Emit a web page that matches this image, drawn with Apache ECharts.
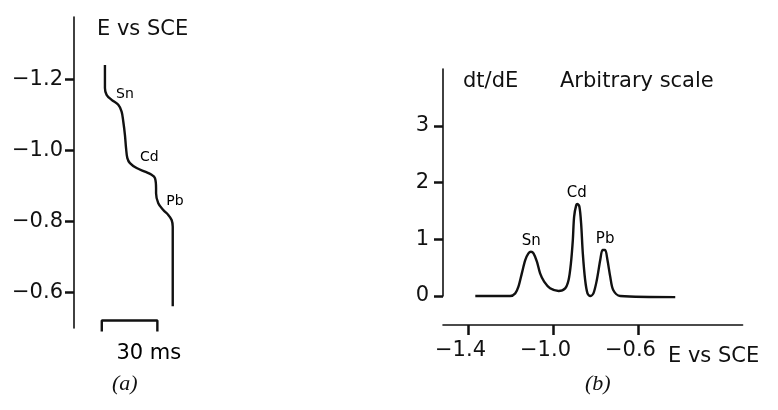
<!DOCTYPE html>
<html><head><meta charset="utf-8">
<script src="https://cdn.jsdelivr.net/npm/echarts@6/dist/echarts.min.js"></script>
<style>html,body{margin:0;padding:0;background:#fff}#c{width:778px;height:410px}</style>
</head><body><div id="c"></div>
<script>
// ---- Panel (a): potential vs time (chronopotentiogram) ----
const aTime = [16.7,16.7,17.6,20.3,23.9,25.7,26.6,27.5,28.1,28.8,30.2,33.8,38.3,41.9,43.7,44.3,44.3,45.5,48.2,50.9,52.7,53.3,53.3];
const aPotential = [-1.240,-1.175,-1.156,-1.142,-1.128,-1.109,-1.081,-1.043,-1.006,-0.978,-0.964,-0.950,-0.940,-0.931,-0.922,-0.893,-0.879,-0.851,-0.832,-0.818,-0.804,-0.785,-0.561];
const aTicks = [-1.2,-1.0,-0.8,-0.6];
const aPeakNames = ['Sn','Cd','Pb'];
const aPeakTime = [27.5,40.6,54.5];
const aPeakPotential = [-1.156,-0.980,-0.856];
const scaleBarTime = [15,15,45,45];
const scaleBarPotential = [-0.490,-0.521,-0.521,-0.490];
const scaleBarLabel = ['30 ms'];
const scaleBarLabelPos = [40.4,-0.428];

// ---- Panel (b): dt/dE vs E ----
const bPotential = [-1.368,-1.204,-1.180,-1.165,-1.149,-1.133,-1.118,-1.106,-1.094,-1.078,-1.063,-1.044,-1.016,-0.976,-0.945,-0.929,-0.918,-0.909,-0.903,-0.893,-0.887,-0.878,-0.870,-0.862,-0.851,-0.840,-0.827,-0.812,-0.796,-0.780,-0.769,-0.757,-0.746,-0.733,-0.719,-0.686,-0.427];
const bDtdE = [0,0,0.047,0.164,0.399,0.634,0.752,0.781,0.752,0.606,0.399,0.252,0.135,0.088,0.135,0.282,0.575,0.986,1.396,1.602,1.620,1.573,1.279,0.752,0.282,0.047,0.0,0.047,0.282,0.634,0.810,0.810,0.634,0.341,0.106,0.0,-0.02];
const bYTicks = [0,1,2,3];
const bXTicks = [-1.4,-1.0,-0.6];
const bPeakNames = ['Sn','Cd','Pb'];
const bPeakPotential = [-1.105,-0.890,-0.757];
const bPeakHeight = [0.969,1.82,0.999];

const INK = '#111';
const FONT = 'DejaVu Sans';
const fmtNeg = v => (v < 0 ? '\u2212' : '') + Math.abs(v).toFixed(1);

const chart = echarts.init(document.getElementById('c'), null, {renderer: 'canvas'});
const titleStyle = {color: INK, fontFamily: FONT, fontSize: 21, fontWeight: 'normal'};
const capStyle = {color: INK, fontFamily: 'Liberation Serif', fontStyle: 'italic', fontSize: 22, fontWeight: 'normal'};
const annot = (size, weight) => ({show: true, position: 'inside', formatter: '{b}', color: '#000', opacity: 1,
  fontFamily: FONT, fontSize: size, fontWeight: weight});

chart.setOption({
  animation: false,
  backgroundColor: '#fff',
  title: [
    {text: 'E vs SCE', left: 92, top: 14, textStyle: titleStyle},
    {text: 'dt/dE', left: 458, top: 66, textStyle: titleStyle},
    {text: 'Arbitrary scale', left: 555, top: 66, textStyle: titleStyle},
    {text: 'E vs SCE', left: 663, top: 341, textStyle: titleStyle},
    {text: '(a)', left: 107, top: 368, textStyle: capStyle},
    {text: '(b)', left: 580, top: 368, textStyle: capStyle}
  ],
  grid: [
    {left: 74, top: 17, width: 148.2, height: 311, outerBoundsMode: 'none'},
    {left: 443, top: 69, width: 299.6, height: 227, outerBoundsMode: 'none'}
  ],
  xAxis: [
    {gridIndex: 0, type: 'value', min: 0, max: 80, show: false},
    {gridIndex: 1, type: 'value', min: -1.52, max: -0.11, position: 'bottom', offset: 29,
     splitLine: {show: false},
     axisLine: {show: true, onZero: false, lineStyle: {color: INK, width: 1.6}},
     axisTick: {show: true, inside: false, length: 10, customValues: bXTicks, lineStyle: {color: INK, width: 2.5}},
     axisLabel: {customValues: bXTicks, formatter: fmtNeg, color: INK, fontFamily: FONT, fontSize: 21, margin: 15, padding: [0, 16, 0, 0]}}
  ],
  yAxis: [
    {gridIndex: 0, type: 'value', inverse: true, min: -1.375, max: -0.5, position: 'left',
     splitLine: {show: false},
     axisLine: {show: true, onZero: false, lineStyle: {color: INK, width: 1.6}},
     axisTick: {show: true, inside: false, length: 9, customValues: aTicks, lineStyle: {color: INK, width: 2.5}},
     axisLabel: {customValues: aTicks, formatter: fmtNeg, color: INK, fontFamily: FONT, fontSize: 21, margin: 11}},
    {gridIndex: 1, type: 'value', min: 0, max: 4, position: 'left',
     splitLine: {show: false},
     axisLine: {show: true, onZero: false, lineStyle: {color: INK, width: 1.6}},
     axisTick: {show: true, inside: false, length: 9, customValues: bYTicks, lineStyle: {color: INK, width: 2.5}},
     axisLabel: {customValues: bYTicks, formatter: v => String(Math.round(v)), color: INK, fontFamily: FONT, fontSize: 21, margin: 14}}
  ],
  series: [
    {type: 'line', xAxisIndex: 0, yAxisIndex: 0, data: aTime.map((t, i) => [t, aPotential[i]]),
     smooth: 0.35, symbol: 'none', silent: true, lineStyle: {color: INK, width: 2.4}},
    {type: 'line', xAxisIndex: 0, yAxisIndex: 0, data: scaleBarTime.map((t, i) => [t, scaleBarPotential[i]]),
     clip: false, symbol: 'none', silent: true, lineStyle: {color: INK, width: 2.4}},
    {type: 'scatter', xAxisIndex: 0, yAxisIndex: 0, clip: false, symbolSize: 0, silent: true,
     itemStyle: {opacity: 1},
     data: [{value: scaleBarLabelPos, name: scaleBarLabel[0]}],
     label: annot(21, 'normal')},
    {type: 'scatter', xAxisIndex: 0, yAxisIndex: 0, symbolSize: 0, silent: true, itemStyle: {opacity: 1},
     data: aPeakNames.map((n, i) => ({value: [aPeakTime[i], aPeakPotential[i]], name: n})),
     label: annot(14, 'normal')},
    {type: 'line', xAxisIndex: 1, yAxisIndex: 1, data: bPotential.map((e, i) => [e, bDtdE[i]]),
     smooth: 0.3, symbol: 'none', silent: true, clip: false, lineStyle: {color: INK, width: 2.4}},
    {type: 'scatter', xAxisIndex: 1, yAxisIndex: 1, symbolSize: 0, silent: true, itemStyle: {opacity: 1},
     data: bPeakNames.map((n, i) => ({value: [bPeakPotential[i], bPeakHeight[i]], name: n})),
     label: annot(15, 'normal')}
  ]
});
</script>
</body></html>
